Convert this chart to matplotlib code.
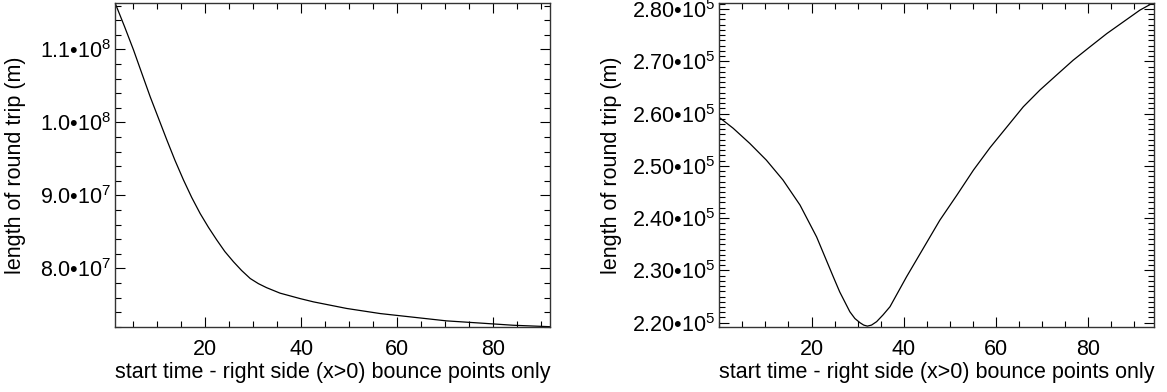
import matplotlib
matplotlib.use("Agg")
import matplotlib.pyplot as plt
from matplotlib.ticker import FixedLocator, MultipleLocator, FixedFormatter

plt.rcParams['font.family'] = ['Liberation Sans', 'DejaVu Sans']
plt.rcParams['mathtext.fontset'] = 'custom'
plt.rcParams['mathtext.rm'] = 'Liberation Sans'
plt.rcParams['mathtext.it'] = 'Liberation Sans'

# ---- data ----
left_x = [1.25, 3.2, 5.07, 6.8, 8.54, 10.3, 12.0, 13.7, 15.48, 17.2, 18.96,
          20.7, 22.4, 24.1, 25.9, 27.6, 29.4, 31.1, 32.8, 35.6, 39.8, 42.6,
          49.5, 56.5, 63.4, 70.3, 77.3, 84.2, 91.9]
left_y = [1.163e8, 1.131e8, 1.099e8, 1.067e8, 1.035e8, 1.005e8, 9.76e7, 9.48e7,
          9.21e7, 8.97e7, 8.75e7, 8.56e7, 8.39e7, 8.23e7, 8.09e7, 7.97e7,
          7.86e7, 7.79e7, 7.735e7, 7.66e7, 7.585e7, 7.54e7, 7.45e7, 7.38e7,
          7.33e7, 7.28e7, 7.25e7, 7.22e7, 7.20e7]

right_x = [0.1, 3.0, 6.6, 10.2, 13.8, 17.5, 21.1, 24.7, 26.1, 28.3, 29.4, 30.5,
           31.3, 32.1, 33.0, 34.1, 35.5, 37.0, 40.6, 44.2, 47.8, 51.5, 55.1,
           58.7, 62.3, 65.9, 69.5, 73.1, 76.7, 80.4, 84.0, 87.6, 91.2, 94.1]
right_y = [2.592e5, 2.572e5, 2.543e5, 2.511e5, 2.473e5, 2.425e5, 2.364e5,
           2.288e5, 2.259e5, 2.221e5, 2.208e5, 2.200e5, 2.1955e5, 2.1935e5,
           2.1955e5, 2.202e5, 2.215e5, 2.2306e5, 2.288e5, 2.342e5, 2.396e5,
           2.444e5, 2.492e5, 2.535e5, 2.574e5, 2.613e5, 2.645e5, 2.6736e5,
           2.702e5, 2.728e5, 2.753e5, 2.7755e5, 2.798e5, 2.812e5]

x_ticks = [20, 40, 60, 80]
x_tick_labels = ['20', '40', '60', '80']

left_yticks = [8.0e7, 9.0e7, 1.0e8, 1.1e8]
left_ytick_labels = ['8.0•10$^{7}$', '9.0•10$^{7}$', '1.0•10$^{8}$', '1.1•10$^{8}$']

right_yticks = [2.20e5, 2.30e5, 2.40e5, 2.50e5, 2.60e5, 2.70e5, 2.80e5]
right_ytick_labels = ['2.20•10$^{5}$', '2.30•10$^{5}$', '2.40•10$^{5}$', '2.50•10$^{5}$',
                      '2.60•10$^{5}$', '2.70•10$^{5}$', '2.80•10$^{5}$']

xlabel = 'start time - right side (x>0) bounce points only'
ylabel = 'length of round trip (m)'

W, H = 1167, 392
fig = plt.figure(figsize=(W / 100, H / 100), dpi=100)

def px_axes(l, t, r, b):
    return fig.add_axes([l / W, 1 - b / H, (r - l) / W, (b - t) / H])

ax1 = px_axes(115, 3, 550, 326.7)
ax2 = px_axes(719.3, 3, 1154.3, 326.7)

FS = 15.5

def style(ax, ylabel_x):
    for s in ax.spines.values():
        s.set_linewidth(1.0)
        s.set_color('#333333')
    ax.tick_params(which='both', direction='in', top=True, right=True,
                   labelsize=FS, colors='black', width=0.8)
    ax.tick_params(which='major', length=7)
    ax.tick_params(which='minor', length=4)
    ax.tick_params(axis='x', which='major', pad=9)
    ax.tick_params(axis='y', which='major', pad=3)
    ax.set_xlabel(xlabel, fontsize=FS, labelpad=1)
    ax.set_ylabel(ylabel, fontsize=FS, va='center')
    ax.yaxis.set_label_coords(ylabel_x, 0.5)

ax1.plot(left_x, left_y, color='black', lw=0.9)
ax1.set_xlim(1.2, 91.9)
ax1.set_ylim(7.2e7, 1.1635e8)
ax1.xaxis.set_major_locator(FixedLocator(x_ticks))
ax1.xaxis.set_major_formatter(FixedFormatter(x_tick_labels))
ax1.xaxis.set_minor_locator(MultipleLocator(5))
ax1.yaxis.set_major_locator(FixedLocator(left_yticks))
ax1.yaxis.set_major_formatter(FixedFormatter(left_ytick_labels))
ax1.yaxis.set_minor_locator(MultipleLocator(2e6))
style(ax1, (16 - 115) / 435)

ax2.plot(right_x, right_y, color='black', lw=0.9)
ax2.set_xlim(0, 94.3)
ax2.set_ylim(2.1924e5, 2.8115e5)
ax2.xaxis.set_major_locator(FixedLocator(x_ticks))
ax2.xaxis.set_major_formatter(FixedFormatter(x_tick_labels))
ax2.xaxis.set_minor_locator(MultipleLocator(5))
ax2.yaxis.set_major_locator(FixedLocator(right_yticks))
ax2.yaxis.set_major_formatter(FixedFormatter(right_ytick_labels))
ax2.yaxis.set_minor_locator(MultipleLocator(1e3))
style(ax2, (612 - 719.3) / 435)

fig.savefig('out.png', dpi=100)
